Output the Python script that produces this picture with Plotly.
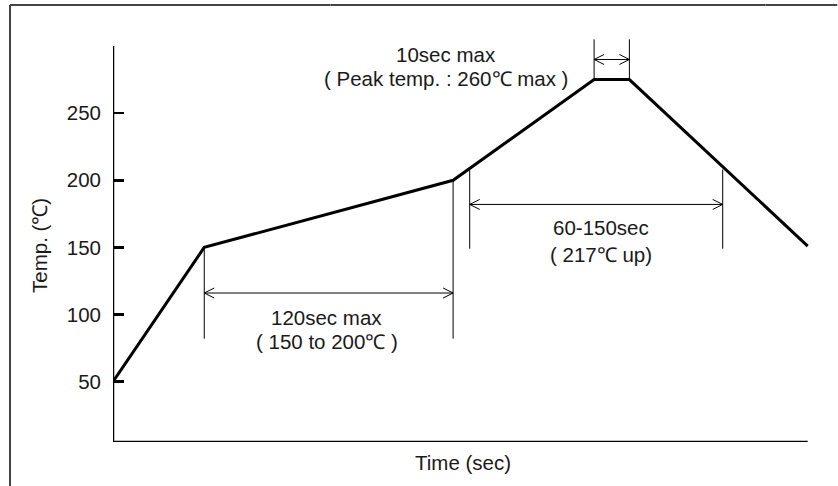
import plotly.graph_objects as go

# ---- data (schematic reflow profile) ----
times = [0, 44, 164, 232, 249, 335]          # sec (schematic)
temps = [50, 150, 200, 275, 275, 151]        # deg C
y_ticks = [50, 100, 150, 200, 250]

# dimension spans: (t_start, t_end, arrow_temp)
preheat_span = [44, 164]
preheat_arrow_temp = 116
preheat_ext_bottom = 82

liquidus_span = [172, 294]
liquidus_arrow_temp = 182
liquidus_ext = [208, 149]

peak_span = [232, 249]
peak_arrow_temp = 290
peak_ext_top = 305

labels_preheat = ["120sec max", "( 150 to 200℃ )"]
labels_liquidus = ["60-150sec", "( 217℃ up)"]
labels_peak = ["10sec max", "( Peak temp. : 260℃ max )"]

# ---- layout geometry ----
W, H = 838, 486
ML, MR, MT, MB = 113, 0, 38, 44
X_RANGE = [0, 349.6]
Y_RANGE = [5, 306]
px_x = (W - ML - MR) / (X_RANGE[1] - X_RANGE[0])
px_y = (H - MT - MB) / (Y_RANGE[1] - Y_RANGE[0])

FONT = "Arial, Liberation Sans, sans-serif"
TXT = "#1a1a1a"
FS = 20.5

fig = go.Figure()

# main profile
fig.add_trace(go.Scatter(x=times, y=temps, mode="lines",
                         line=dict(color="black", width=3),
                         hoverinfo="skip", showlegend=False))

def temp_at(t):
    for i in range(len(times) - 1):
        if times[i] <= t <= times[i + 1]:
            f = (t - times[i]) / (times[i + 1] - times[i])
            return temps[i] + f * (temps[i + 1] - temps[i])
    return temps[-1]

# extension lines
ext_x, ext_y = [], []
for t in preheat_span:
    ext_x += [t, t, None]
    ext_y += [temp_at(t), preheat_ext_bottom, None]
for t in liquidus_span:
    ext_x += [t, t, None]
    ext_y += [liquidus_ext[0], liquidus_ext[1], None]
for t in peak_span:
    ext_x += [t, t, None]
    ext_y += [temp_at(t), peak_ext_top, None]

# arrows with open chevron heads
HL, HW = 10 / px_x, 5 / px_y
for span, yv in [(preheat_span, preheat_arrow_temp),
                 (liquidus_span, liquidus_arrow_temp),
                 (peak_span, peak_arrow_temp)]:
    a, b = span
    ext_x += [a, b, None]
    ext_y += [yv, yv, None]
    ext_x += [a + HL, a, a + HL, None]
    ext_y += [yv + HW, yv, yv - HW, None]
    ext_x += [b - HL, b, b - HL, None]
    ext_y += [yv + HW, yv, yv - HW, None]

fig.add_trace(go.Scatter(x=ext_x, y=ext_y, mode="lines",
                         line=dict(color="black", width=1),
                         hoverinfo="skip", showlegend=False))

# text annotations
def add_text(x, y, s):
    fig.add_annotation(x=x, y=y, xref="x", yref="y", text=s, showarrow=False,
                       font=dict(family=FONT, size=FS, color=TXT),
                       xanchor="center", yanchor="middle")

add_text(103, 97.5, labels_preheat[0])
add_text(103, 80, labels_preheat[1])
add_text(235.5, 164.5, labels_liquidus[0])
add_text(235.5, 145, labels_liquidus[1])
add_text(160.5, 293.5, labels_peak[0])
add_text(160.5, 275.5, labels_peak[1])

# axis titles
fig.add_annotation(x=(463 - ML) / (W - ML - MR), y=(H - MB - 462) / (H - MT - MB),
                   xref="paper", yref="paper", text="Time (sec)", showarrow=False,
                   font=dict(family=FONT, size=FS, color=TXT),
                   xanchor="center", yanchor="middle")
fig.add_annotation(x=(39 - ML) / (W - ML - MR), y=(H - MB - 246) / (H - MT - MB),
                   xref="paper", yref="paper", text="Temp. (℃)", showarrow=False,
                   textangle=-90,
                   font=dict(family=FONT, size=FS, color=TXT),
                   xanchor="center", yanchor="middle")

# axis lines
fig.add_shape(type="line", xref="x", yref="y", x0=0, x1=0, y0=Y_RANGE[0], y1=300,
              line=dict(color="black", width=2.5))
fig.add_shape(type="line", xref="x", yref="y", x0=0, x1=times[-1], y0=Y_RANGE[0], y1=Y_RANGE[0],
              line=dict(color="black", width=2.5))

# outer frame (left and top edges; original is cropped on right/bottom)
fx0 = (10 - ML) / (W - ML - MR)
fy1 = (H - MB - 5) / (H - MT - MB)
fig.add_shape(type="line", xref="paper", yref="paper", x0=fx0, x1=fx0, y0=fy1, y1=-0.2,
              line=dict(color="#444444", width=2))
# top edge drawn in segments
seg_edges = [fx0, 0.3, 0.6, 0.9, 0.999]
for s0, s1 in zip(seg_edges[:-1], seg_edges[1:]):
    fig.add_shape(type="line", xref="paper", yref="paper", x0=s0, x1=s1, y0=fy1, y1=fy1,
                  line=dict(color="#444444", width=2))

fig.update_layout(
    width=W, height=H,
    margin=dict(l=ML, r=MR, t=MT, b=MB, autoexpand=False),
    paper_bgcolor="white", plot_bgcolor="white",
    xaxis=dict(range=X_RANGE, showgrid=False, zeroline=False, showline=False,
               showticklabels=False, ticks=""),
    yaxis=dict(range=Y_RANGE, showgrid=False, zeroline=False, showline=False,
               tickmode="array", tickvals=y_ticks, ticktext=[str(v) for v in y_ticks],
               ticks="inside", ticklen=11, tickwidth=2.5, tickcolor="black",
               ticklabelstandoff=11,
               tickfont=dict(family=FONT, size=FS, color=TXT)),
)

fig.write_html("out.html",
               config={"displayModeBar": False, "staticPlot": True},
               post_script="document.body.style.margin='0';document.body.style.overflow='hidden';")
